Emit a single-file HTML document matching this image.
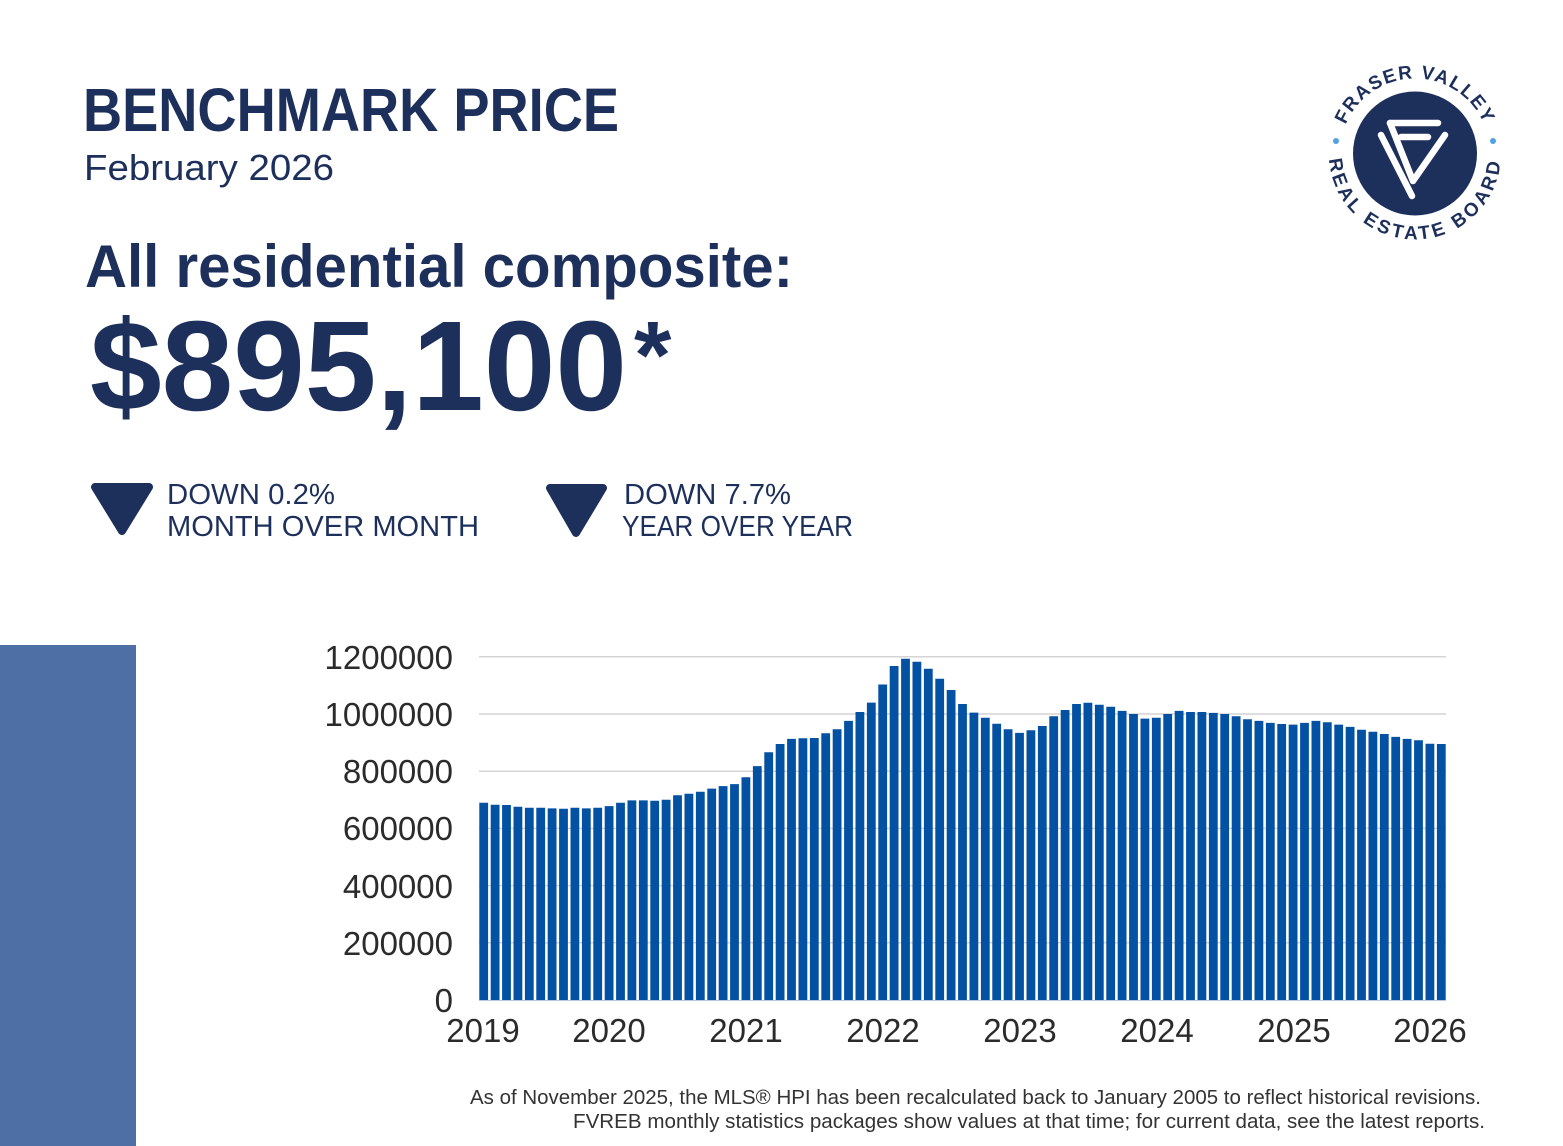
<!DOCTYPE html>
<html>
<head>
<meta charset="utf-8">
<style>
html,body{margin:0;padding:0;background:#fff;}
body{width:1563px;height:1146px;overflow:hidden;}
svg{display:block;}
text{font-family:"Liberation Sans",Arial,sans-serif;}
</style>
</head>
<body>
<svg width="1563" height="1146" viewBox="0 0 1563 1146" xmlns="http://www.w3.org/2000/svg">
<rect x="0" y="0" width="1563" height="1146" fill="#ffffff"/>

<!-- Header text -->
<text x="83" y="131" font-size="61" font-weight="bold" fill="#1d2f5b" textLength="536" lengthAdjust="spacingAndGlyphs">BENCHMARK PRICE</text>
<text x="84" y="180" font-size="36" fill="#1d2f5b" textLength="250" lengthAdjust="spacingAndGlyphs">February 2026</text>
<text x="85" y="287" font-size="60" font-weight="bold" fill="#1d2f5b" textLength="708" lengthAdjust="spacingAndGlyphs">All residential composite:</text>
<text x="90" y="410" font-size="128" font-weight="bold" fill="#1d2f5b" textLength="537" lengthAdjust="spacingAndGlyphs">$895,100</text>
<text x="634" y="388" font-size="96" font-weight="bold" fill="#1d2f5b">*</text>

<!-- Down indicators -->
<polygon points="95,487 149,487 122,531" fill="#1d2f5b" stroke="#1d2f5b" stroke-width="8" stroke-linejoin="round"/>
<polygon points="550,488 603,488 576,533" fill="#1d2f5b" stroke="#1d2f5b" stroke-width="8" stroke-linejoin="round"/>
<text x="167" y="504" font-size="29" fill="#1d2f5b" textLength="168" lengthAdjust="spacingAndGlyphs">DOWN 0.2%</text>
<text x="167" y="536" font-size="29" fill="#1d2f5b" textLength="312" lengthAdjust="spacingAndGlyphs">MONTH OVER MONTH</text>
<text x="624" y="504" font-size="29" fill="#1d2f5b" textLength="167" lengthAdjust="spacingAndGlyphs">DOWN 7.7%</text>
<text x="622" y="536" font-size="29" fill="#1d2f5b" textLength="231" lengthAdjust="spacingAndGlyphs">YEAR OVER YEAR</text>

<!-- Logo -->
<defs>
<path id="arcTop" d="M1340 153.5 A75 75 0 0 1 1490 153.5"/>
<path id="arcBot" d="M1329 153.5 A86 86 0 0 0 1501 153.5"/>
</defs>
<circle cx="1415" cy="153.5" r="62" fill="#1d2f5b"/>
<g stroke="#ffffff" stroke-width="6.5" stroke-linecap="round" stroke-linejoin="round" fill="none">
<path d="M1381 135 L1412 196"/>
<path d="M1390 123 L1413 181 L1445 135"/>
<path d="M1390 123 L1438 123"/>
<path d="M1401 137 L1428 137"/>
</g>
<text font-size="19" font-weight="bold" fill="#1d2f5b" letter-spacing="1.5" text-anchor="middle"><textPath href="#arcTop" startOffset="50%">FRASER VALLEY</textPath></text>
<text font-size="19" font-weight="bold" fill="#1d2f5b" letter-spacing="3.2" text-anchor="middle"><textPath href="#arcBot" startOffset="50%">REAL ESTATE BOARD</textPath></text>
<circle cx="1336" cy="141" r="3" fill="#4fa3e0"/>
<circle cx="1493" cy="141" r="3" fill="#4fa3e0"/>

<!-- Left accent block -->
<rect x="0" y="645" width="136" height="501" fill="#4e6ea6"/>

<!-- Gridlines -->
<g stroke="#d4d4d4" stroke-width="1.5">
<line x1="479" y1="656.8" x2="1446" y2="656.8"/>
<line x1="479" y1="714" x2="1446" y2="714"/>
<line x1="479" y1="771.2" x2="1446" y2="771.2"/>
<line x1="479" y1="828.4" x2="1446" y2="828.4"/>
<line x1="479" y1="885.6" x2="1446" y2="885.6"/>
<line x1="479" y1="942.8" x2="1446" y2="942.8"/>
</g>

<!-- Bars -->
<path fill="#0351a3" d="M479.3 1000V802.7h8.8V1000z M490.7 1000V804.7h8.8V1000z M502.1 1000V805h8.8V1000z M513.5 1000V806.7h8.8V1000z M524.9 1000V807.8h8.8V1000z M536.3 1000V807.8h8.8V1000z M547.7 1000V808.4h8.8V1000z M559.1 1000V808.7h8.8V1000z M570.5 1000V807.8h8.8V1000z M581.9 1000V808.4h8.8V1000z M593.3 1000V807.8h8.8V1000z M604.7 1000V806.1h8.8V1000z M616.1 1000V802.7h8.8V1000z M627.5 1000V800.4h8.8V1000z M638.9 1000V800.4h8.8V1000z M650.3 1000V800.7h8.8V1000z M661.7 1000V799.8h8.8V1000z M673.1 1000V795.2h8.8V1000z M684.5 1000V793.8h8.8V1000z M695.9 1000V791.8h8.8V1000z M707.3 1000V788.6h8.8V1000z M718.7 1000V786.1h8.8V1000z M730.1 1000V784.1h8.8V1000z M741.5 1000V777.2h8.8V1000z M752.9 1000V766.1h8.8V1000z M764.3 1000V752.3h8.8V1000z M775.7 1000V744h8.8V1000z M787.1 1000V738.9h8.8V1000z M798.5 1000V738.3h8.8V1000z M809.9 1000V738h8.8V1000z M821.3 1000V733.2h8.8V1000z M832.7 1000V729.2h8.8V1000z M844.1 1000V720.9h8.8V1000z M855.5 1000V712h8.8V1000z M866.9 1000V702.6h8.8V1000z M878.3 1000V684.5h8.8V1000z M889.7 1000V666h8.8V1000z M901.1 1000V658.8h8.8V1000z M912.5 1000V661.7h8.8V1000z M923.9 1000V668.8h8.8V1000z M935.3 1000V678.8h8.8V1000z M946.7 1000V690h8.8V1000z M958.1 1000V704h8.8V1000z M969.5 1000V712.6h8.8V1000z M980.9 1000V717.7h8.8V1000z M992.3 1000V723.7h8.8V1000z M1003.7 1000V729.2h8.8V1000z M1015.1 1000V732.9h8.8V1000z M1026.5 1000V730.3h8.8V1000z M1037.9 1000V726h8.8V1000z M1049.3 1000V716.3h8.8V1000z M1060.7 1000V710h8.8V1000z M1072.1 1000V704h8.8V1000z M1083.5 1000V702.8h8.8V1000z M1094.9 1000V704.8h8.8V1000z M1106.3 1000V706.8h8.8V1000z M1117.7 1000V710.9h8.8V1000z M1129.1 1000V714h8.8V1000z M1140.5 1000V718.6h8.8V1000z M1151.9 1000V717.7h8.8V1000z M1163.3 1000V714h8.8V1000z M1174.7 1000V710.9h8.8V1000z M1186.1 1000V712h8.8V1000z M1197.5 1000V712h8.8V1000z M1208.9 1000V712.9h8.8V1000z M1220.3 1000V714h8.8V1000z M1231.7 1000V716.3h8.8V1000z M1243.1 1000V719.2h8.8V1000z M1254.5 1000V720.9h8.8V1000z M1265.9 1000V722.9h8.8V1000z M1277.3 1000V724h8.8V1000z M1288.7 1000V724.6h8.8V1000z M1300.1 1000V722.9h8.8V1000z M1311.5 1000V720.9h8.8V1000z M1322.9 1000V722.3h8.8V1000z M1334.3 1000V724.6h8.8V1000z M1345.7 1000V726.9h8.8V1000z M1357.1 1000V729.7h8.8V1000z M1368.5 1000V731.7h8.8V1000z M1379.9 1000V734h8.8V1000z M1391.3 1000V736.9h8.8V1000z M1402.7 1000V738.9h8.8V1000z M1414.1 1000V740.3h8.8V1000z M1425.5 1000V743.7h8.8V1000z M1436.9 1000V744h8.8V1000z"/>
<line x1="479" y1="1000.5" x2="1446" y2="1000.5" stroke="#b7c8e0" stroke-width="1"/>

<!-- Y axis labels -->
<g font-size="33" fill="#2b2b2b" text-anchor="end">
<text x="453" y="669">1200000</text>
<text x="453" y="726">1000000</text>
<text x="453" y="783">800000</text>
<text x="453" y="840">600000</text>
<text x="453" y="898">400000</text>
<text x="453" y="955">200000</text>
<text x="453" y="1012">0</text>
</g>

<!-- X axis labels -->
<g font-size="33" fill="#2b2b2b" text-anchor="middle">
<text x="483" y="1042">2019</text>
<text x="609" y="1042">2020</text>
<text x="746" y="1042">2021</text>
<text x="883" y="1042">2022</text>
<text x="1020" y="1042">2023</text>
<text x="1157" y="1042">2024</text>
<text x="1294" y="1042">2025</text>
<text x="1430" y="1042">2026</text>
</g>

<!-- Footer -->
<text x="470" y="1104" font-size="20" fill="#333333" textLength="1011" lengthAdjust="spacingAndGlyphs">As of November 2025, the MLS® HPI has been recalculated back to January 2005 to reflect historical revisions.</text>
<text x="573" y="1128" font-size="20" fill="#333333" textLength="912" lengthAdjust="spacingAndGlyphs">FVREB monthly statistics packages show values at that time; for current data, see the latest reports.</text>
</svg>
</body>
</html>
